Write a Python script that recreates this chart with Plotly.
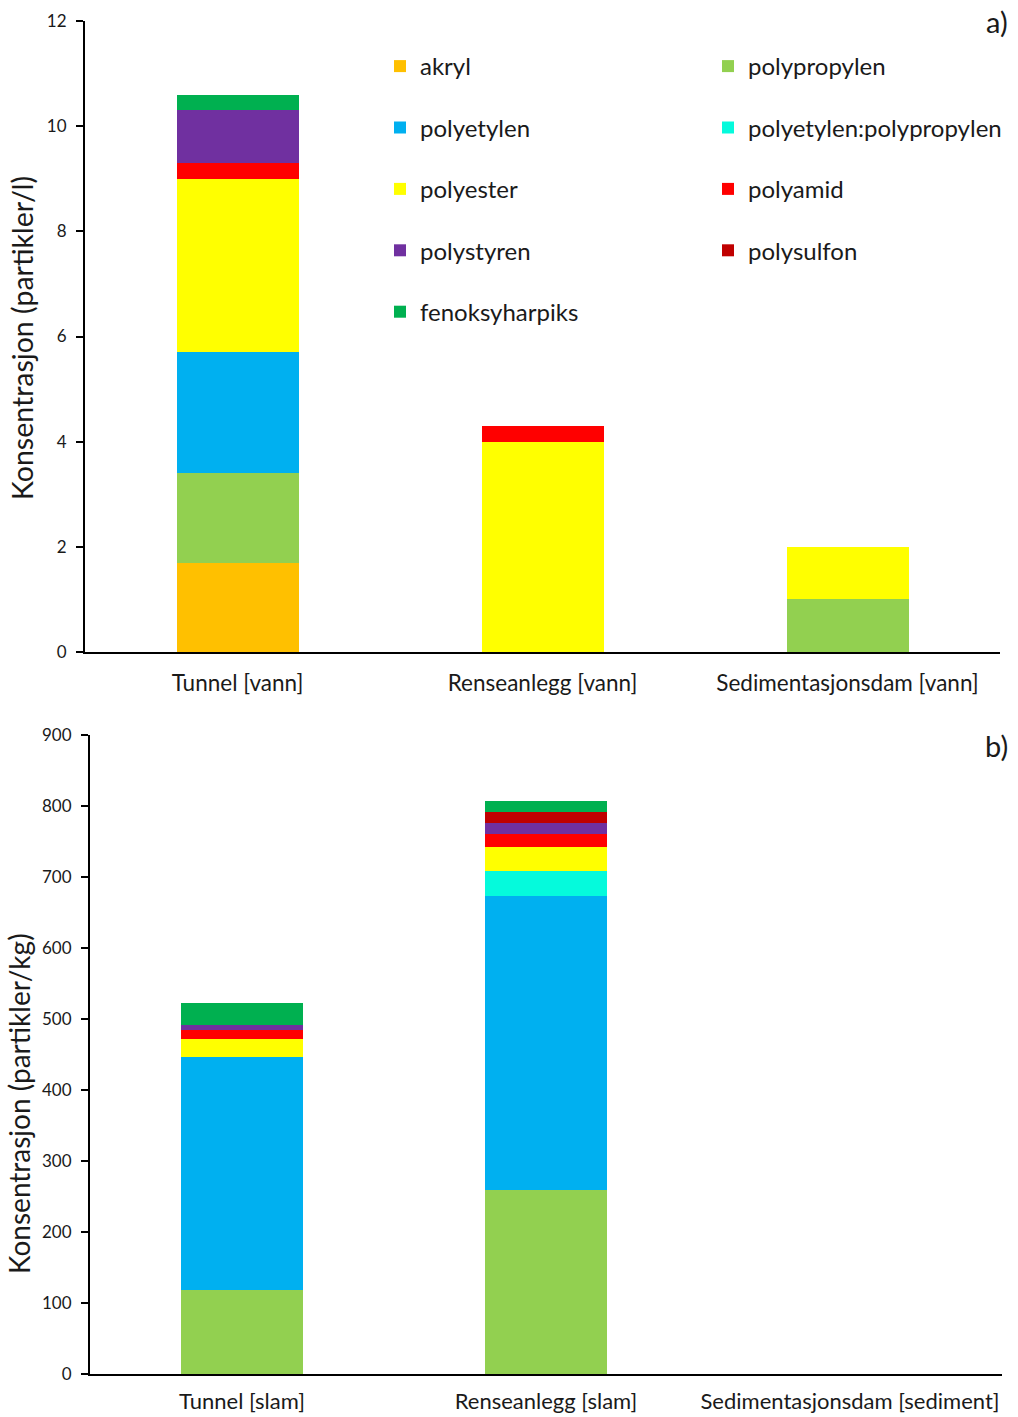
import plotly.graph_objects as go

# ---- data ----
cats_water = ["Tunnel [vann]", "Renseanlegg [vann]", "Sedimentasjonsdam [vann]"]
cats_sludge = ["Tunnel [slam]", "Renseanlegg [slam]", "Sedimentasjonsdam [sediment]"]

series_names = ["akryl", "polypropylen", "polyetylen", "polyetylen:polypropylen",
                "polyester", "polyamid", "polystyren", "polysulfon", "fenoksyharpiks"]
series_colors = ["#FFC000", "#92D050", "#00B0F0", "#05FADC",
                 "#FFFF00", "#FF0000", "#7030A0", "#C00000", "#00B050"]

# panel a) particles per litre
akryl_a = [1.7, None, None]
polypropylen_a = [1.7, None, 1.0]
polyetylen_a = [2.3, None, None]
pepp_a = [None, None, None]
polyester_a = [3.3, 4.0, 1.0]
polyamid_a = [0.3, 0.3, None]
polystyren_a = [1.0, None, None]
polysulfon_a = [None, None, None]
fenoksy_a = [0.3, None, None]

# panel b) particles per kg
akryl_b = [None, None, None]
polypropylen_b = [119, 259, None]
polyetylen_b = [328, 414, None]
pepp_b = [None, 35, None]
polyester_b = [25, 34, None]
polyamid_b = [12, 18, None]
polystyren_b = [8, 16, None]
polysulfon_b = [None, 16, None]
fenoksy_b = [30, 15, None]

vals_a = [akryl_a, polypropylen_a, polyetylen_a, pepp_a, polyester_a,
          polyamid_a, polystyren_a, polysulfon_a, fenoksy_a]
vals_b = [akryl_b, polypropylen_b, polyetylen_b, pepp_b, polyester_b,
          polyamid_b, polystyren_b, polysulfon_b, fenoksy_b]

# legend columns (row-wise reading order as in the reference)
legend_col = ["legend", "legend2", "legend", "legend2", "legend",
              "legend2", "legend", "legend2", "legend"]

fig = go.Figure()
for i, name in enumerate(series_names):
    has_a = any(v is not None for v in vals_a[i])
    fig.add_trace(go.Bar(
        x=cats_water, y=vals_a[i], name=name, marker_color=series_colors[i],
        marker_line_width=0, xaxis="x", yaxis="y",
        legendgroup=name, legend=legend_col[i], legendrank=i,
        showlegend=has_a,
    ))
for i, name in enumerate(series_names):
    has_a = any(v is not None for v in vals_a[i])
    fig.add_trace(go.Bar(
        x=cats_sludge, y=vals_b[i], name=name, marker_color=series_colors[i],
        marker_line_width=0, xaxis="x2", yaxis="y2",
        legendgroup=name, legend=legend_col[i], legendrank=i,
        showlegend=not has_a,
    ))

FONT = "Lato, 'Open Sans', sans-serif"
TXT = "#1a1a1a"

axis_common = dict(showline=True, linecolor="black", linewidth=2,
                   showgrid=False, zeroline=False, automargin=False)

ML, MR, MT, MB = 85, 16, 21, 43
W, H = 1018, 1417
pw, ph = W - ML - MR, H - MT - MB

def py(pix):
    return (H - MB - pix) / ph

def px(pix):
    return (pix - ML) / pw

legend_common = dict(
    orientation="v", xanchor="left", yanchor="top",
    font=dict(family=FONT, size=24, color=TXT),
    tracegroupgap=27.2, bgcolor="rgba(0,0,0,0)", borderwidth=0,
    itemclick=False, itemdoubleclick=False,
)

ytick = dict(ticks="outside", ticklen=7, tickwidth=2, tickcolor="black",
             ticklabelstandoff=6, tickfont=dict(size=17, color=TXT))
yinner = dict(ticks="inside", ticklen=7, tickwidth=2, tickcolor="black",
              showticklabels=False, showline=False, showgrid=False, zeroline=False,
              automargin=False)

fig.update_layout(
    width=W, height=H,
    margin=dict(l=ML, r=MR, t=MT, b=MB, autoexpand=False),
    plot_bgcolor="white", paper_bgcolor="white",
    barmode="stack", bargap=0.6,
    font=dict(family=FONT, color=TXT),
    xaxis=dict(domain=[0, px(1000)], anchor="y", ticks="", ticklabelstandoff=10,
               tickfont=dict(size=22.5, color=TXT), **axis_common),
    yaxis=dict(domain=[py(652), 1.0], anchor="x", range=[0, 12], dtick=2,
               **ytick, **axis_common),
    yaxis3=dict(domain=[py(652), 1.0], anchor="x", overlaying="y", range=[0, 12],
                dtick=2, **yinner),
    xaxis2=dict(domain=[px(90), 1.0], anchor="y2", ticks="", ticklabelstandoff=7,
                tickfont=dict(size=22, color=TXT), **axis_common),
    yaxis2=dict(domain=[0, py(735)], anchor="x2", range=[0, 900], dtick=100,
                **ytick, **axis_common),
    yaxis4=dict(domain=[0, py(735)], anchor="x2", overlaying="y2", range=[0, 900],
                dtick=100, **yinner),
    legend=dict(x=px(380), y=py(44), **legend_common),
    legend2=dict(x=px(708), y=py(44), **legend_common),
    annotations=[
        dict(text="Konsentrasjon (partikler/l)", textangle=-90, xref="paper", yref="paper",
             x=px(22), y=py(338), xanchor="center", yanchor="middle", showarrow=False,
             font=dict(family=FONT, size=28.5, color=TXT)),
        dict(text="Konsentrasjon (partikler/kg)", textangle=-90, xref="paper", yref="paper",
             x=px(19), y=py(1104), xanchor="center", yanchor="middle", showarrow=False,
             font=dict(family=FONT, size=28, color=TXT)),
        dict(text="a)", xref="paper", yref="paper", x=px(1010), y=py(21),
             xanchor="right", yanchor="middle", showarrow=False,
             font=dict(family=FONT, size=29, color=TXT)),
        dict(text="b)", xref="paper", yref="paper", x=px(1010), y=py(745),
             xanchor="right", yanchor="middle", showarrow=False,
             font=dict(family=FONT, size=29, color=TXT)),
    ],
)

fig.write_html("out.html", config={"displayModeBar": False},
               post_script="document.body.style.margin='0';")
